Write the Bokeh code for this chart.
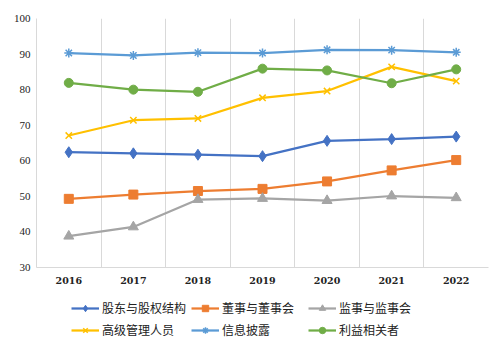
from bokeh.plotting import figure
from bokeh.layouts import column
from bokeh.models import FixedTicker, Legend, LegendItem, Range1d
from bokeh.embed import file_html
from bokeh.resources import INLINE

years = [2016, 2017, 2018, 2019, 2020, 2021, 2022]
shareholders = [62.4, 62.1, 61.7, 61.3, 65.6, 66.1, 66.8]
board = [49.3, 50.5, 51.5, 52.1, 54.2, 57.3, 60.2]
supervisors = [38.8, 41.4, 49.1, 49.4, 48.8, 50.1, 49.6]
managers = [67.1, 71.4, 71.9, 77.7, 79.6, 86.4, 82.4]
disclosure = [90.3, 89.6, 90.4, 90.3, 91.2, 91.1, 90.5]
stakeholders = [81.9, 80.0, 79.4, 85.9, 85.4, 81.8, 85.7]

names = ["股东与股权结构", "董事与董事会", "监事与监事会", "高级管理人员", "信息披露", "利益相关者"]
y_ticks = [30, 40, 50, 60, 70, 80, 90, 100]

p = figure(width=502, height=290, output_backend="svg", toolbar_location=None,
           x_range=Range1d(years[0] - 0.5, years[-1] + 0.5), y_range=Range1d(30, 100),
           min_border_left=36, min_border_right=14, min_border_top=18, min_border_bottom=23)
p.outline_line_color = None

p.xaxis.ticker = FixedTicker(ticks=years)
p.yaxis.ticker = FixedTicker(ticks=y_ticks)
p.xgrid.ticker = FixedTicker(ticks=[y - 0.5 for y in years] + [years[-1] + 0.5])
p.xgrid.grid_line_color = "#D9D9D9"
p.ygrid.grid_line_color = None

for ax in (p.xaxis[0], p.yaxis[0]):
    ax.axis_line_color = "#D9D9D9"
    ax.major_tick_line_color = None
    ax.minor_tick_line_color = None
    ax.major_tick_out = 0
    ax.major_label_text_color = "#222222"
p.yaxis.major_label_text_font = "Liberation Serif"
p.yaxis.major_label_text_font_size = "11px"
p.yaxis.major_label_standoff = 6
p.xaxis.major_label_text_font = "DejaVu Serif"
p.xaxis.major_label_text_font_size = "9.5px"
p.xaxis.major_label_text_font_style = "bold"
p.xaxis.major_label_standoff = 9

series = [
    (shareholders, "#4472C4", "diamond", 11),
    (board, "#ED7D31", "square", 9),
    (supervisors, "#A5A5A5", "triangle", 10),
    (managers, "#FFC000", "x", 9),
    (disclosure, "#5B9BD5", "asterisk", 9),
    (stakeholders, "#70AD47", "circle", 9),
]

# legend panel: a separate small figure; its copies of the series lie outside its ranges
lf = figure(width=502, height=55, output_backend="svg", toolbar_location=None,
            x_range=Range1d(0, 1), y_range=Range1d(0, 1),
            min_border_left=0, min_border_right=0, min_border_top=0, min_border_bottom=0)
lf.axis.visible = False
lf.grid.visible = False
lf.outline_line_color = None

items = []
for (vals, color, marker, size), name in zip(series, names):
    lw = 1.5 if marker in ("x", "asterisk") else 1
    p.line(years, vals, line_color=color, line_width=2.25)
    p.scatter(years, vals, marker=marker, size=size, fill_color=color,
              line_color=color, line_width=lw)
    l1 = lf.line(years, vals, line_color=color, line_width=2.25)
    l2 = lf.scatter(years, vals, marker=marker, size=size, fill_color=color,
                    line_color=color, line_width=lw)
    items.append(LegendItem(label=name, renderers=[l1, l2]))

legend = Legend(items=items, orientation="horizontal", ncols=3,
                label_text_font="Noto Sans CJK SC", label_text_font_size="12px",
                label_text_color="#222222", glyph_width=28, glyph_height=16,
                label_height=16, label_width=81, label_standoff=3, spacing=5,
                border_line_color=None, background_fill_alpha=0, padding=0,
                margin=0, location=(35, 7))
lf.add_layout(legend)

open("out.html", "w").write(file_html(column(p, lf, spacing=0), INLINE))
